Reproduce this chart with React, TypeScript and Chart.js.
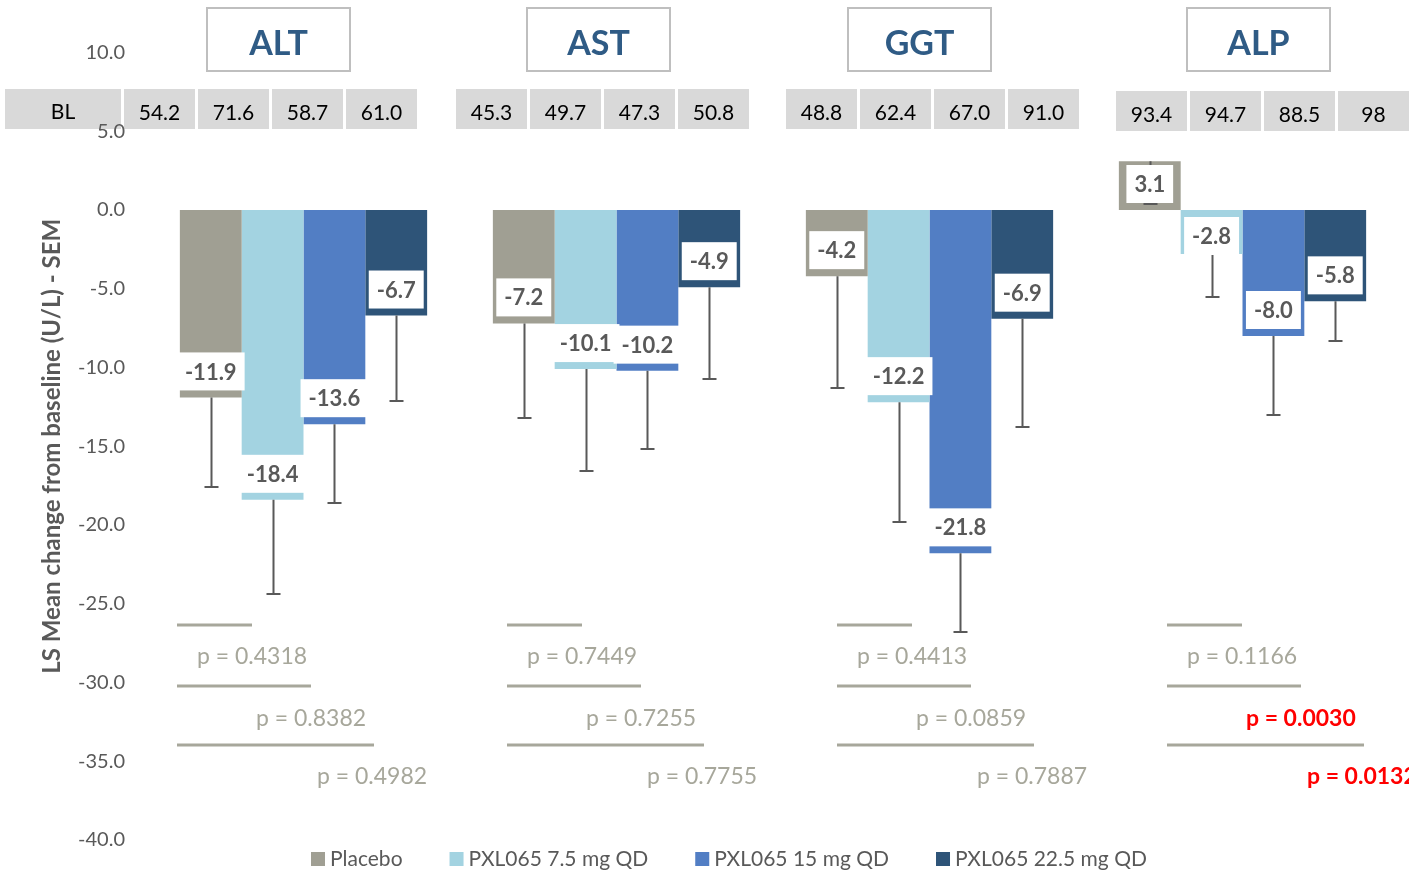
import React, { useEffect, useRef } from 'react';
import { Chart, registerables } from 'chart.js';

Chart.register(...registerables);

// ---------------- DATA ----------------
const categories = ['ALT', 'AST', 'GGT', 'ALP'];
const seriesNames = ['Placebo', 'PXL065 7.5 mg QD', 'PXL065 15 mg QD', 'PXL065 22.5 mg QD'];

const placeboValues = [-11.9, -7.2, -4.2, 3.1];
const pxl75Values = [-18.4, -10.1, -12.2, -2.8];
const pxl15Values = [-13.6, -10.2, -21.8, -8.0];
const pxl225Values = [-6.7, -4.9, -6.9, -5.8];

const placeboSem = [5.7, 6.0, 7.1, 2.7];
const pxl75Sem = [6.0, 6.5, 7.6, 2.7];
const pxl15Sem = [5.0, 5.0, 5.0, 5.0];
const pxl225Sem = [5.4, 5.8, 6.9, 2.5];

const baselinePlacebo = ['54.2', '45.3', '48.8', '93.4'];
const baseline75 = ['71.6', '49.7', '62.4', '94.7'];
const baseline15 = ['58.7', '47.3', '67.0', '88.5'];
const baseline225 = ['61.0', '50.8', '91.0', '98'];

const pVs75 = ['0.4318', '0.7449', '0.4413', '0.1166'];
const pVs15 = ['0.8382', '0.7255', '0.0859', '0.0030'];
const pVs225 = ['0.4982', '0.7755', '0.7887', '0.0132'];

const yTickMin = -40;
const yTickMax = 10;
const yTickStep = 5;

// ---------------- STYLE / LAYOUT ----------------
const FONT = 'Lato, "Open Sans", "Noto Sans", sans-serif';
const COLORS = ['#A09F93', '#A3D3E1', '#527EC4', '#2E5478'];
const TEXT_GRAY = '#595959';
const P_GRAY = '#A7A79B';

const allValues = [placeboValues, pxl75Values, pxl15Values, pxl225Values];
const allSem = [placeboSem, pxl75Sem, pxl15Sem, pxl225Sem];
const allBaselines = [baselinePlacebo, baseline75, baseline15, baseline225];
const allP = [pVs75, pVs15, pVs225];

const HEADER_LEFT = [207, 527, 848, 1187];
const TABLE_LEFT = [124, 456, 786, 1116];
const PLINE_LEFT = [177, 507, 837, 1167];

const overlay = {
  id: 'overlay',
  beforeDraw(chart: any) {
    const ctx = chart.ctx as CanvasRenderingContext2D;
    ctx.save();
    ctx.fillStyle = '#ffffff';
    ctx.fillRect(0, 0, chart.width, chart.height);

    // headers
    categories.forEach((c, g) => {
      const x = HEADER_LEFT[g];
      ctx.fillStyle = '#ffffff';
      ctx.fillRect(x, 7, 143, 64);
      ctx.strokeStyle = '#BFBFBF';
      ctx.lineWidth = 2;
      ctx.strokeRect(x, 8, 143, 63);
      ctx.fillStyle = '#2F5B85';
      ctx.font = `bold 34px ${FONT}`;
      ctx.textAlign = 'center';
      ctx.textBaseline = 'alphabetic';
      ctx.fillText(c, x + 71.5, 55);
    });

    // baseline table
    ctx.fillStyle = '#D9D9D9';
    ctx.fillRect(5, 89, 116, 40);
    ctx.fillStyle = '#000';
    ctx.font = `21px ${FONT}`;
    ctx.textAlign = 'center';
    ctx.fillText('BL', 63, 119);
    categories.forEach((_, g) => {
      const dy = g === 3 ? 2 : 0;
      for (let s = 0; s < 4; s++) {
        const x = TABLE_LEFT[g] + s * 74;
        ctx.fillStyle = '#D9D9D9';
        ctx.fillRect(x, 89 + dy, 71, 40);
        ctx.fillStyle = '#000';
        ctx.font = `21px ${FONT}`;
        ctx.fillText(allBaselines[s][g], x + 35.5, 120 + dy);
      }
    });
    ctx.restore();
  },
  afterDatasetsDraw(chart: any) {
    const ctx = chart.ctx as CanvasRenderingContext2D;
    const yScale = chart.scales.y;
    const zero = yScale.getPixelForValue(0);
    ctx.save();
    // error bars
    ctx.strokeStyle = TEXT_GRAY;
    ctx.lineWidth = 2;
    chart.data.datasets.forEach((ds: any, i: number) => {
      const meta = chart.getDatasetMeta(i);
      meta.data.forEach((bar: any, j: number) => {
        const v = allValues[i][j];
        const end = yScale.getPixelForValue(v - allSem[i][j]);
        const x = Math.round(bar.x) + 0.5;
        ctx.beginPath();
        ctx.moveTo(x, bar.y);
        ctx.lineTo(x, end);
        ctx.moveTo(x - 7, Math.round(end));
        ctx.lineTo(x + 7, Math.round(end));
        ctx.stroke();
      });
    });
    // value labels
    ctx.font = `bold 22px ${FONT}`;
    ctx.textAlign = 'center';
    ctx.textBaseline = 'middle';
    chart.data.datasets.forEach((ds: any, i: number) => {
      const meta = chart.getDatasetMeta(i);
      meta.data.forEach((bar: any, j: number) => {
        const v = allValues[i][j];
        const txt = v.toFixed(1);
        const w = ctx.measureText(txt).width + 16;
        let cy;
        if (v < 0) cy = Math.max(bar.y - 26, zero + 26);
        else cy = Math.min(bar.y + 26, zero - 26);
        ctx.fillStyle = '#ffffff';
        ctx.fillRect(bar.x - w / 2, cy - 19, w, 38);
        ctx.fillStyle = TEXT_GRAY;
        ctx.fillText(txt, bar.x, cy + 1);
      });
    });
    ctx.restore();
  },
  afterDraw(chart: any) {
    const ctx = chart.ctx as CanvasRenderingContext2D;
    ctx.save();
    // p-value brackets
    const lineY = [625, 686, 745];
    const lineLen = [75, 134, 197];
    const textOff = [20, 79, 140];
    const textY = [664, 726, 784];
    categories.forEach((_, g) => {
      for (let r = 0; r < 3; r++) {
        const x0 = PLINE_LEFT[g];
        ctx.strokeStyle = P_GRAY;
        ctx.lineWidth = 3;
        ctx.beginPath();
        ctx.moveTo(x0, lineY[r]);
        ctx.lineTo(x0 + lineLen[r], lineY[r]);
        ctx.stroke();
        const p = allP[r][g];
        const sig = parseFloat(p) < 0.05;
        ctx.font = sig ? `bold 23px ${FONT}` : `23px ${FONT}`;
        ctx.fillStyle = sig ? '#FF0000' : P_GRAY;
        ctx.textAlign = 'left';
        ctx.textBaseline = 'alphabetic';
        ctx.fillText(`p = ${p}`, x0 + textOff[r], textY[r]);
      }
    });
    // legend
    let x = 311;
    ctx.font = `21px ${FONT}`;
    ctx.textBaseline = 'alphabetic';
    ctx.textAlign = 'left';
    seriesNames.forEach((name, i) => {
      ctx.fillStyle = COLORS[i];
      ctx.fillRect(x, 852, 14, 14);
      ctx.fillStyle = TEXT_GRAY;
      ctx.fillText(name, x + 19, 866);
      x += 19 + ctx.measureText(name).width + 47;
    });
    ctx.restore();
  },
};

export default function App() {
  const ref = useRef<HTMLCanvasElement>(null);
  useEffect(() => {
    const chart = new Chart(ref.current as HTMLCanvasElement, {
      type: 'bar',
      data: {
        labels: categories,
        datasets: seriesNames.map((name, i) => ({
          label: name,
          data: allValues[i],
          backgroundColor: COLORS[i],
          borderWidth: 0,
          categoryPercentage: 0.79,
          barPercentage: 1.0,
        })),
      },
      options: {
        animation: false,
        responsive: false,
        devicePixelRatio: 1,
        layout: { padding: { left: 0, right: 10, top: 52.5, bottom: 30 } },
        plugins: {
          legend: { display: false },
          tooltip: { enabled: false },
        },
        scales: {
          x: { display: false },
          y: {
            min: yTickMin,
            max: yTickMax,
            grid: { display: false, drawTicks: true, tickLength: 10 },
            border: { display: false },
            ticks: {
              stepSize: yTickStep,
              padding: 12,
              color: TEXT_GRAY,
              font: { family: FONT, size: 20 },
              callback: (v: any) => Number(v).toFixed(1),
            },
            title: {
              display: true,
              text: 'LS Mean change from baseline (U/L) - SEM',
              color: TEXT_GRAY,
              font: { family: FONT, size: 24, weight: 'bold' },
              padding: { top: 37.5, bottom: 0 },
            },
            afterFit: (scale: any) => {
              scale.width = 147;
            },
          },
        },
      },
      plugins: [overlay],
    } as any);
    return () => chart.destroy();
  }, []);
  return (
    <div style={{ position: 'absolute', left: 0, top: 0, width: 1409, height: 870, background: '#fff', overflow: 'hidden' }}>
      <canvas ref={ref} width={1409} height={870} style={{ display: 'block', width: 1409, height: 870 }} />
    </div>
  );
}
